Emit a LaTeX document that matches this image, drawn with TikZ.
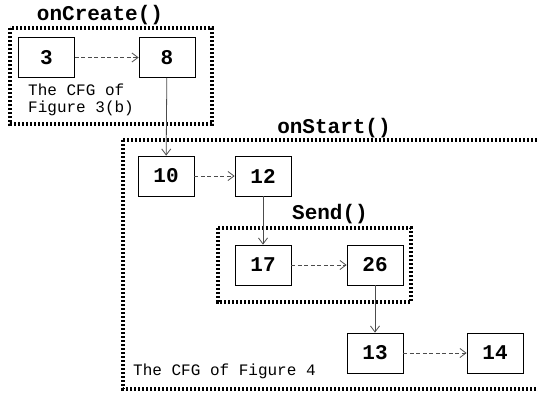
\documentclass[tikz,border=0pt]{standalone}
\usepackage{fontspec}
\setmonofont{Liberation Mono}
\usetikzlibrary{arrows.meta}
\begin{document}
\begin{tikzpicture}[x=1pt,y=-1pt,
  blk/.style={draw=black,line width=0.8pt,fill=white,minimum width=56pt,minimum height=40pt,
    inner sep=0pt,font=\ttfamily\bfseries\fontsize{21}{21}\selectfont},
  region/.style={draw=black,line width=3.2pt,dash pattern=on 2.4pt off 1.6pt},
  title/.style={font=\ttfamily\bfseries\fontsize{21}{21}\selectfont,inner sep=0pt},
  note/.style={font=\ttfamily\fontsize{16}{17}\selectfont,inner sep=0pt,align=left},
  flow/.style={draw=black!70,line width=0.8pt,-{Straight Barb[length=6pt,width=9pt]}},
  jump/.style={flow,dashed,dash pattern=on 4pt off 2.5pt}]
\useasboundingbox (0,0) rectangle (538,394);
% enclosing regions
\draw[region] (10,28) rectangle (212,124);
\draw[region] (123,140) rectangle (541,389);
\draw[region] (218,228) rectangle (411,302);
\node[title] (tcreate) at (100,15) {onCreate()};
\node[title] (tstart) at (334,128) {onStart()};
\node[title] (tsend) at (330,214) {Send()};
\node[note,anchor=north west] (n1) at (28,84) {The CFG of\\Figure 3(b)};
\node[note,anchor=west] (n2) at (133,371) {The CFG of Figure 4};
% blocks
\node[blk] (b3) at (46.5,57.5) {3};
\node[blk] (b8) at (167,57.5) {8};
\node[blk] (b10) at (166,176) {10};
\node[blk] (b12) at (263,176) {12};
\node[blk] (b17) at (263,265) {17};
\node[blk] (b26) at (375,265) {26};
\node[blk] (b13) at (375,353) {13};
\node[blk] (b14) at (495,353) {14};
% edges
\draw[jump] (b3) -- (b8);
\draw[flow] (b8) -- (b10);
\draw[jump] (b10) -- (b12);
\draw[flow] (b12) -- (b17);
\draw[jump] (b17) -- (b26);
\draw[flow] (b26) -- (b13);
\draw[jump] (b13) -- (b14);
\end{tikzpicture}
\end{document}
